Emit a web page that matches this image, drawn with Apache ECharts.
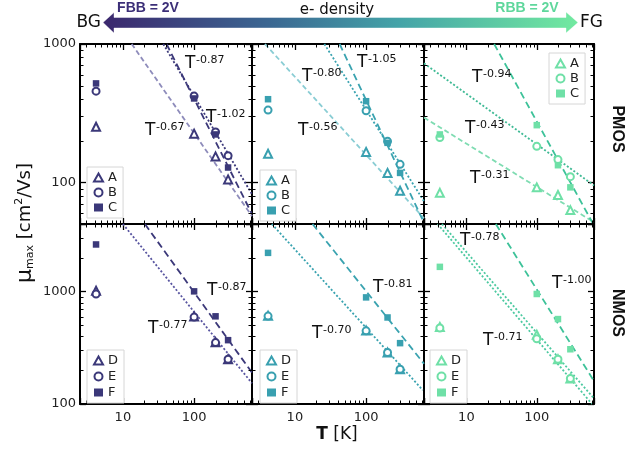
<!DOCTYPE html>
<html><head><meta charset="utf-8">
<script src="https://cdn.jsdelivr.net/npm/echarts@6/dist/echarts.min.js"></script>
<style>html,body{margin:0;padding:0;background:#fff}#c{width:643px;height:450px}</style>
</head><body><div id="c"></div>
<script>
// ---------- data ----------
const temperatures = [4.2, 100, 200, 300];

// PMOS (top row)
const pmosFBB_A = [252, 225, 154, 105];
const pmosFBB_B = [456, 420, 231, 156];
const pmosFBB_C = [519, 404, 222, 128];
const pmos0_A = [161, 166, 117, 87];
const pmos0_B = [333, 329, 198, 135];
const pmos0_C = [399, 386, 193, 117];
const pmosRBB_A = [84, 92, 81, 63];
const pmosRBB_B = [211, 182, 146, 110];
const pmosRBB_C = [222, 259, 133, 92];

// NMOS (bottom row)
const nmosFBB_D = [1020, 600, 355, 250];
const nmosFBB_E = [953, 594, 352, 250];
const nmosFBB_F = [2630, 1006, 603, 370];
const nmos0_D = [611, 452, 287, 204];
const nmos0_E = [606, 448, 287, 204];
const nmos0_F = [2214, 889, 589, 348];
const nmosRBB_D = [484, 413, 250, 169];
const nmosRBB_E = [475, 380, 250, 169];
const nmosRBB_F = [1662, 953, 570, 307];

// power-law fit lines, end points [T, mu]
const fitPmosFBB_A = [[13.3, 1000], [650, 57]];
const fitPmosFBB_B = [[36.9, 1000], [650, 82]];
const fitPmosFBB_C = [[41, 1000], [650, 59]];
const fitPmos0_A = [[3.8, 1000], [650, 55]];
const fitPmos0_B = [[25.9, 1000], [650, 73]];
const fitPmos0_C = [[42.5, 1000], [650, 51]];
const fitPmosRBB_A = [[2.5, 294], [650, 51.5]];
const fitPmosRBB_B = [[2.5, 725], [650, 95]];
const fitPmosRBB_C = [[24.8, 1000], [620, 51]];
const fitNmosFBB_E = [[10, 4000], [650, 153]];
const fitNmosFBB_F = [[20.4, 4000], [650, 190]];
const fitNmos0_E = [[4.74, 4000], [624, 133]];
const fitNmos0_F = [[17.7, 4000], [650, 228]];
const fitNmosRBB_D = [[3.9, 4000], [610, 100]];
const fitNmosRBB_E = [[4.5, 4000], [650, 112]];
const fitNmosRBB_F = [[26.2, 4000], [635, 164]];

// exponent labels
const pmosFBB_exp = ['-0.87', '-1.02', '-0.67'];
const pmos0_exp = ['-0.80', '-1.05', '-0.56'];
const pmosRBB_exp = ['-0.94', '-0.43', '-0.31'];
const nmosFBB_exp = ['-0.87', '-0.77'];
const nmos0_exp = ['-0.81', '-0.70'];
const nmosRBB_exp = ['-0.78', '-1.00', '-0.71'];

// axis ranges and ticks
const xRange = [2.5, 650];
const yRangePmos = [50, 1000];
const yRangeNmos = [100, 4000];
const xMinorTicks = [3,4,5,6,7,8,9,20,30,40,50,60,70,80,90,200,300,400,500,600];
const yMinorPmos = [60,70,80,90,200,300,400,500,600,700,800,900];
const yMinorNmos = [200,300,400,500,600,700,800,900,2000,3000];

// ---------- layout / style ----------
const colLeft = [80, 252, 424], colWidth = [172, 172, 170];
const rowTop = [44, 224], rowHeight = [180, 180];
const colStyle = [
  {marker:'#3b3879', light:'#8e8cbb', dot:'#3b3879', dash:'#3b3879', dot2:'#5855a0'},
  {marker:'#39a0b0', light:'#8acdd4', dot:'#3aa3b0', dash:'#3aa3b0', dot2:'#3aa3b0'},
  {marker:'#6fe0a7', light:'#7fdcb2', dot:'#3fba95', dash:'#3dc299', dot2:'#4cc9a0'}
];
const symbols = [['emptyTriangle', 8], ['emptyCircle', 7], ['rect', 6.5]];

const panels = [
  {row:0,col:0, letters:['A','B','C'], values:[pmosFBB_A,pmosFBB_B,pmosFBB_C],
   fits:[[fitPmosFBB_A,'light'],[fitPmosFBB_B,'dot'],[fitPmosFBB_C,'dash']], legend:[87,167],
   exps:pmosFBB_exp, expPos:[[185,58],[206,112],[145,125]]},
  {row:0,col:1, letters:['A','B','C'], values:[pmos0_A,pmos0_B,pmos0_C],
   fits:[[fitPmos0_A,'light'],[fitPmos0_B,'dot'],[fitPmos0_C,'dash']], legend:[260,170],
   exps:pmos0_exp, expPos:[[302,71],[357,57],[298,125]]},
  {row:0,col:2, letters:['A','B','C'], values:[pmosRBB_A,pmosRBB_B,pmosRBB_C],
   fits:[[fitPmosRBB_A,'light'],[fitPmosRBB_B,'dot'],[fitPmosRBB_C,'dash']], legend:[549,53],
   exps:pmosRBB_exp, expPos:[[472,72],[465,123],[470,173]]},
  {row:1,col:0, letters:['D','E','F'], values:[nmosFBB_D,nmosFBB_E,nmosFBB_F],
   fits:[[fitNmosFBB_E,'dot2'],[fitNmosFBB_F,'dash']], legend:[87,350],
   exps:nmosFBB_exp, expPos:[[207,285],[148,323]]},
  {row:1,col:1, letters:['D','E','F'], values:[nmos0_D,nmos0_E,nmos0_F],
   fits:[[fitNmos0_E,'dot2'],[fitNmos0_F,'dash']], legend:[260,350],
   exps:nmos0_exp, expPos:[[373,282],[312,328]]},
  {row:1,col:2, letters:['D','E','F'], values:[nmosRBB_D,nmosRBB_E,nmosRBB_F],
   fits:[[fitNmosRBB_D,'dot2'],[fitNmosRBB_E,'dot2'],[fitNmosRBB_F,'dash']], legend:[430,350],
   exps:nmosRBB_exp, expPos:[[460,235],[552,278],[483,335]]}
];

const FONT = '"DejaVu Sans", sans-serif';
function decadeLabel(v) {
  const l = Math.log10(v);
  return Math.abs(l - Math.round(l)) < 1e-6 ? String(Math.round(v)) : '';
}

const grids = [], xAxes = [], yAxes = [], series = [], legends = [], gElems = [];

panels.forEach((p, gi) => {
  const cs = colStyle[p.col];
  const yr = p.row === 0 ? yRangePmos : yRangeNmos;
  const yMinor = p.row === 0 ? yMinorPmos : yMinorNmos;
  grids.push({left: colLeft[p.col], top: rowTop[p.row], width: colWidth[p.col], height: rowHeight[p.row], containLabel: false});
  ['bottom', 'top'].forEach(pos => xAxes.push({
    type:'log', logBase:10, gridIndex:gi, position:pos, min:xRange[0], max:xRange[1],
    axisLine:{show:true, onZero:false, lineStyle:{color:'#000', width:2}},
    axisTick:{show:true, inside:true, length:6, lineStyle:{color:'#000', width:1.3}},
    axisLabel:{show: pos === 'bottom' && p.row === 1, formatter: decadeLabel, margin:7, fontSize:13,
      color:'#222', fontFamily: FONT, showMinLabel:true, showMaxLabel:true, interval:0},
    splitLine:{show:false}, minorTick:{show:false}
  }));
  ['left', 'right'].forEach(pos => yAxes.push({
    type:'log', logBase:10, gridIndex:gi, position:pos, min:yr[0], max:yr[1],
    axisLine:{show:true, onZero:false, lineStyle:{color:'#000', width:2}},
    axisTick:{show:true, inside:true, length:6, lineStyle:{color:'#000', width:1.3}},
    axisLabel:{show: pos === 'left' && p.col === 0, formatter: decadeLabel, margin:4, fontSize:13,
      color:'#222', fontFamily: FONT, showMinLabel:true, showMaxLabel:true, interval:0},
    splitLine:{show:false}, minorTick:{show:false}
  }));
  const xi = 2 * gi, yi = 2 * gi;

  // minor ticks (x)
  series.push({
    type:'custom', xAxisIndex:xi, yAxisIndex:yi, silent:true, z:3, clip:false,
    data: xMinorTicks.map(v => [v, yr[0]]),
    renderItem(params, api) {
      const c = params.coordSys;
      const px = Math.round(api.coord([api.value(0), api.value(1)])[0]) + 0.5;
      const b = c.y + c.height, L = 3.5;
      return {type:'group', children:[
        {type:'line', shape:{x1:px, y1:b, x2:px, y2:b - L}, style:{stroke:'#000', lineWidth:1}},
        {type:'line', shape:{x1:px, y1:c.y, x2:px, y2:c.y + L}, style:{stroke:'#000', lineWidth:1}}
      ]};
    }
  });
  // minor ticks (y)
  series.push({
    type:'custom', xAxisIndex:xi, yAxisIndex:yi, silent:true, z:3, clip:false,
    data: yMinor.map(v => [xRange[0], v]),
    renderItem(params, api) {
      const c = params.coordSys;
      const py = Math.round(api.coord([api.value(0), api.value(1)])[1]) + 0.5;
      const r = c.x + c.width, L = 3.5;
      return {type:'group', children:[
        {type:'line', shape:{x1:c.x, y1:py, x2:c.x + L, y2:py}, style:{stroke:'#000', lineWidth:1}},
        {type:'line', shape:{x1:r, y1:py, x2:r - L, y2:py}, style:{stroke:'#000', lineWidth:1}}
      ]};
    }
  });

  // fit lines
  p.fits.forEach(([d, kind]) => {
    const dashType = kind === 'dash' ? [7, 4] : kind === 'light' ? [5, 3] : [2, 2];
    series.push({
      type:'line', xAxisIndex:xi, yAxisIndex:yi, data:d, showSymbol:false, symbol:'none',
      silent:true, z:2, clip:true, animation:false,
      lineStyle:{color: cs[kind], width:1.8, type: dashType}
    });
  });

  // data points
  const names = [];
  p.letters.forEach((L, k) => {
    const nm = L + gi;
    names.push(nm);
    series.push({
      name: nm, type:'scatter', xAxisIndex:xi, yAxisIndex:yi,
      symbol: symbols[k][0], symbolSize: symbols[k][1], z:5,
      itemStyle:{color: cs.marker, borderColor: cs.marker, borderWidth: k === 2 ? 0 : 1.5, opacity:1},
      data: temperatures.map((t, i) => [t, p.values[k][i]])
    });
  });
  legends.push({
    show:true, orient:'vertical', left:p.legend[0], top:p.legend[1], data:names,
    formatter: n => n.charAt(0), itemWidth:9, itemHeight:8, itemGap: p.row === 0 ? 2 : 3,
    textStyle:{fontSize:13, color:'#222', fontFamily: FONT}, selectedMode:false,
    borderColor:'#d6d6d6', borderWidth:1, padding:[4,6,4,6], backgroundColor:'#fff', borderRadius:0
  });

  // exponent annotations
  p.exps.forEach((e, k) => {
    const [x, y] = p.expPos[k];
    gElems.push({type:'text', x:x, y:y - 3, silent:true, z:20,
      style:{text:'T', font:'17px ' + FONT, fill:'#111', align:'left', verticalAlign:'top'}});
    gElems.push({type:'text', x:x + 11, y:y - 3, silent:true, z:20,
      style:{text:e, font:'11px ' + FONT, fill:'#111', align:'left', verticalAlign:'top'}});
  });
});

// top arrow
const arrowGrad = new echarts.graphic.LinearGradient(0, 0, 1, 0, [
  {offset:0, color:'#3b276d'}, {offset:0.35, color:'#3b6792'},
  {offset:0.62, color:'#44a3a8'}, {offset:1, color:'#72eaa0'}
]);
gElems.push({type:'polygon', silent:true, z:10,
  shape:{points:[[103,22.5],[114,12.5],[114,17.5],[566,17.5],[566,12],[578,22.5],[566,33],[566,28],[114,28],[114,33]]},
  style:{fill: arrowGrad, stroke:'rgba(255,255,255,0.5)', lineWidth:0.8}});
gElems.push({type:'text', x:101, y:23, silent:true,
  style:{text:'BG', font:'17px ' + FONT, fill:'#111', align:'right', verticalAlign:'middle'}});
gElems.push({type:'text', x:580, y:23, silent:true,
  style:{text:'FG', font:'17px ' + FONT, fill:'#111', align:'left', verticalAlign:'middle'}});
gElems.push({type:'text', x:148, y:8, silent:true,
  style:{text:'FBB = 2V', font:'bold 14px "Liberation Sans", Arial, sans-serif', fill:'#3c2f78', align:'center', verticalAlign:'middle'}});
gElems.push({type:'text', x:527, y:8, silent:true,
  style:{text:'RBB = 2V', font:'bold 14px "Liberation Sans", Arial, sans-serif', fill:'#5fd79c', align:'center', verticalAlign:'middle'}});
gElems.push({type:'text', x:337, y:10, silent:true,
  style:{text:'e- density', font:'15px ' + FONT, fill:'#111', align:'center', verticalAlign:'middle'}});

// y axis title
gElems.push({type:'text', x:25, y:223, rotation:Math.PI / 2, silent:true,
  style:{text:'{mu|\u03bc}{sub|max}{n| [cm}{sup|2}{n|/Vs]}', align:'center', verticalAlign:'middle',
    rich:{
      mu:{fontSize:22, fontFamily:FONT, fill:'#111', verticalAlign:'middle'},
      sub:{fontSize:11, fontFamily:FONT, fill:'#111', verticalAlign:'bottom'},
      sup:{fontSize:11, fontFamily:FONT, fill:'#111', verticalAlign:'top'},
      n:{fontSize:18, fontFamily:FONT, fill:'#111', verticalAlign:'middle'}
    }}});
// x axis title
gElems.push({type:'text', x:337, y:435, silent:true,
  style:{text:'{b|T}{n| [K]}', align:'center', verticalAlign:'middle',
    rich:{b:{fontSize:17, fontWeight:'bold', fontFamily:FONT, fill:'#111'}, n:{fontSize:17, fontFamily:FONT, fill:'#111'}}}});
// row labels
gElems.push({type:'text', x:617, y:129, rotation:-Math.PI / 2, silent:true,
  style:{text:'PMOS', font:'bold 16px "Liberation Sans", Arial, sans-serif', fill:'#111', align:'center', verticalAlign:'middle'}});
gElems.push({type:'text', x:617, y:313, rotation:-Math.PI / 2, silent:true,
  style:{text:'NMOS', font:'bold 16px "Liberation Sans", Arial, sans-serif', fill:'#111', align:'center', verticalAlign:'middle'}});

const chart = echarts.init(document.getElementById('c'), null, {renderer:'canvas'});
chart.setOption({
  backgroundColor:'#fff',
  animation:false,
  textStyle:{fontFamily: FONT},
  grid: grids, xAxis: xAxes, yAxis: yAxes, series: series, legend: legends,
  graphic:{elements: gElems}
});
</script></body></html>
